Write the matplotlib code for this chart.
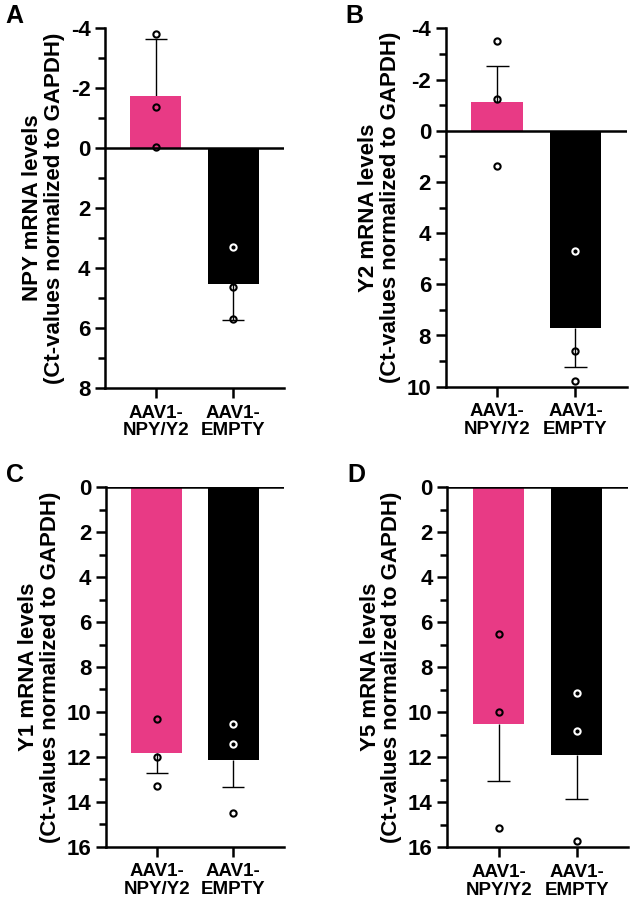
import matplotlib
matplotlib.use('Agg')
import matplotlib.pyplot as plt
import numpy as np

plt.rcParams['font.family'] = ['Liberation Sans', 'DejaVu Sans']
plt.rcParams['font.weight'] = 'bold'

groups = ['AAV1-\nNPY/Y2', 'AAV1-\nEMPTY']
bar_colors = ['#E83A85', '#000000']

# panel A: NPY
npy_mean = [-1.73, 4.54]
npy_err = [1.90, 1.20]
npy_points = [[-3.79, -1.37, -0.04], [3.30, 4.63, 5.69]]

# panel B: Y2
y2_mean = [-1.12, 7.69]
y2_err = [1.41, 1.53]
y2_points = [[-3.50, -1.24, 1.39], [4.71, 8.59, 9.77]]

# panel C: Y1
y1_mean = [11.85, 12.15]
y1_err = [0.87, 1.21]
y1_points = [[10.30, 11.99, 13.29], [10.54, 11.43, 14.51]]

# panel D: Y5
y5_mean = [10.54, 11.89]
y5_err = [2.50, 1.97]
y5_points = [[6.51, 9.97, 15.13], [9.14, 10.83, 15.72]]

panels = [
    ('A', 'NPY', npy_mean, npy_err, npy_points, (-4, 8), [-4, -2, 0, 2, 4, 6, 8], [105, 284, 28, 388]),
    ('B', 'Y2', y2_mean, y2_err, y2_points, (-4, 10), [-4, -2, 0, 2, 4, 6, 8, 10], [445.7, 627, 28.3, 386.7]),
    ('C', 'Y1', y1_mean, y1_err, y1_points, (0, 16), [0, 2, 4, 6, 8, 10, 12, 14, 16], [106, 284, 487.3, 846.7]),
    ('D', 'Y5', y5_mean, y5_err, y5_points, (0, 16), [0, 2, 4, 6, 8, 10, 12, 14, 16], [447.3, 628, 487.3, 847.3]),
]

W, H = 630, 899
fig = plt.figure(figsize=(W / 100, H / 100), dpi=100)

x = np.arange(len(groups))
cap = 0.145
for letter, gene, means, errs, points, ylim, yticks, box in panels:
    x0, x1, y0, y1 = box
    ax = fig.add_axes([x0 / W, 1 - y1 / H, (x1 - x0) / W, (y1 - y0) / H])
    ax.bar(x, means, width=0.66, color=bar_colors, zorder=2)
    for i in range(len(groups)):
        # error bar drawn only away from zero, no cap at the bar end
        end = means[i] - errs[i] if means[i] < 0 else means[i] + errs[i]
        ax.vlines(x[i], means[i], end, color='black', lw=1.0, zorder=1)
        ax.hlines(end, x[i] - cap, x[i] + cap, color='black', lw=1.0, zorder=1)
        for p in points[i]:
            inside = bar_colors[i] == '#000000' and 0 <= p <= means[i]
            ec = 'white' if inside else 'black'
            ax.plot(x[i], p, 'o', ms=4.5, mfc='none', mec=ec, mew=1.5, zorder=4)
    ax.axhline(0, color='black', lw=1.8, zorder=3)
    ax.set_xlim(-0.66, 1.66)
    ax.set_ylim(ylim[1], ylim[0])
    ax.set_yticks(yticks)
    ax.set_yticklabels([str(t) for t in yticks], fontsize=16, fontweight='bold')
    ax.set_yticks(np.arange(ylim[0] + 1, ylim[1], 2), minor=True)
    ax.set_xticks(x)
    ax.set_xticklabels(groups, fontsize=13.5, fontweight='bold', linespacing=1.05)
    ax.tick_params(axis='both', which='major', width=1.8, length=7)
    ax.tick_params(axis='y', which='minor', width=1.8, length=5)
    ax.tick_params(axis='x', pad=5)
    ax.spines['top'].set_visible(False)
    ax.spines['right'].set_visible(False)
    ax.spines['left'].set_linewidth(1.8)
    ax.spines['bottom'].set_linewidth(1.8)
    ax.set_ylabel(gene + ' mRNA levels\n(Ct-values normalized to GAPDH)',
                  fontsize=16, fontweight='bold', labelpad=4, linespacing=1.05)
    fig.text((x0 - 100) / W, 1 - (y0 - 24) / H, letter, fontsize=18, fontweight='bold',
             ha='left', va='top')

fig.savefig('out.png', dpi=100)
